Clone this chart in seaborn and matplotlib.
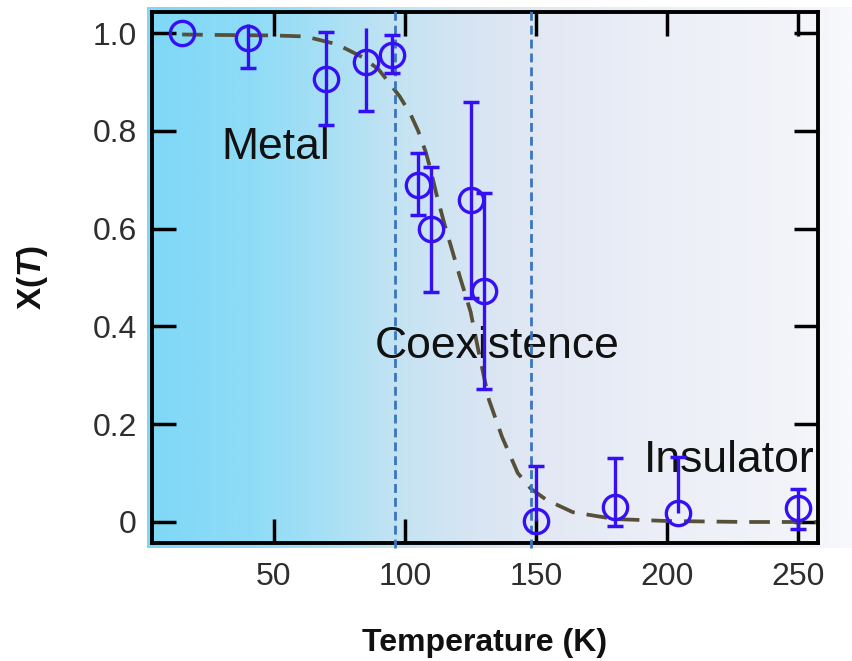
import numpy as np
import matplotlib
matplotlib.use("Agg")
import matplotlib.pyplot as plt
import seaborn as sns
from matplotlib.colors import LinearSegmentedColormap

# Measured metallic fraction X(T) with asymmetric uncertainties
temperature = [15, 40, 70, 85, 95, 105, 110, 125, 130, 150, 180, 204, 250]
fraction = [1.0, 0.99, 0.906, 0.94, 0.955, 0.69, 0.60, 0.658, 0.472, 0.002, 0.031, 0.018, 0.029]
err_low = [0.0, 0.062, 0.095, 0.10, 0.037, 0.062, 0.13, 0.20, 0.20, 0.0, 0.04, 0.0, 0.043]
err_high = [0.0, 0.028, 0.097, 0.07, 0.041, 0.065, 0.127, 0.20, 0.20, 0.113, 0.10, 0.115, 0.038]
top_cap = [False, False, True, False, True, True, True, True, True, True, True, True, True]

# Guide-to-the-eye curve through the transition
fit_temperature = [15, 30, 50, 62, 74, 84, 90, 94, 98, 102, 105, 108, 110, 112, 115, 118,
                   121, 125, 128, 132, 137, 143, 148, 154, 164, 180, 200, 230, 260]
fit_fraction = [0.997, 0.996, 0.995, 0.993, 0.977, 0.95, 0.925, 0.898, 0.87, 0.835, 0.80,
                0.755, 0.715, 0.67, 0.61, 0.555, 0.50, 0.43, 0.35, 0.25, 0.174, 0.10,
                0.068, 0.045, 0.02, 0.006, 0.002, 0.0, 0.0]

# Phase boundaries and region names
boundaries = [96, 148]
region_names = ["Metal", "Coexistence", "Insulator"]
region_x = [30, 88.5, 191]
region_y = [0.742, 0.335, 0.102]

x_ticks = [50, 100, 150, 200, 250]
y_ticks = [0, 0.2, 0.4, 0.6, 0.8, 1.0]
y_tick_labels = ["0", "0.2", "0.4", "0.6", "0.8", "1.0"]

sns.set_theme(style="ticks")
plt.rcParams["font.family"] = ["Liberation Sans", "DejaVu Sans"]
plt.rcParams["mathtext.fontset"] = "custom"
plt.rcParams["mathtext.rm"] = "Liberation Sans"
plt.rcParams["mathtext.bf"] = "Liberation Sans:bold"
plt.rcParams["mathtext.bfit"] = "Liberation Sans:bold:italic"

W, H = 853, 661
fig = plt.figure(figsize=(W / 100, H / 100), dpi=100, facecolor="white")

# Colour gradient behind the plot: metal (blue) fading to insulator (white)
bg = fig.add_axes([147 / W, (H - 548) / H, (W - 147) / W, (548 - 7) / H])
grad = LinearSegmentedColormap.from_list(
    "phase",
    [(0.0, "#7ed8f7"), (0.15, "#8fdcf7"), (0.26, "#a9e0f5"), (0.35, "#c3e3f3"),
     (0.46, "#d7e5f2"), (0.56, "#e2e8f4"), (0.71, "#ebeef7"), (0.92, "#f2f4f9"),
     (1.0, "#f8f9fc")])
bg.imshow(np.linspace(0, 1, 512)[None, :], aspect="auto", cmap=grad,
          extent=[0, 1, 0, 1])
bg.set_axis_off()
bg.set_zorder(0)

ax = fig.add_axes([152 / W, (H - 543) / H, 666 / W, 531 / H])
ax.set_zorder(1)
ax.set_facecolor("none")

blue = "#3510f5"

# dashed guide curve
sns.lineplot(x=fit_temperature, y=fit_fraction, ax=ax, color="#565038", lw=2.7,
             linestyle=(0, (5.5, 3.2)), zorder=2)

# phase boundaries
for b in boundaries:
    ax.axvline(b, ymin=-0.01, ymax=1.01, color="#3a76bd", lw=2.0,
               linestyle=(0, (3.2, 1.8)), clip_on=False, zorder=3)

# region labels
for name, x, y in zip(region_names, region_x, region_y):
    ax.text(x, y, name, fontsize=32, color="#111111", ha="left", va="baseline",
            zorder=2)

# error bars
T = np.array(temperature)
X = np.array(fraction)
lo = np.array(err_low)
hi = np.array(err_high)
ax.vlines(T, X - lo, X + hi, color=blue, lw=2.4, zorder=4)
cap_top = (hi > 0) & np.array(top_cap)
cap_bot = lo > 0
ax.plot(T[cap_top], (X + hi)[cap_top], ls="none", marker="_", ms=12, mew=2.5,
        color=blue, zorder=4)
ax.plot(T[cap_bot], (X - lo)[cap_bot], ls="none", marker="_", ms=12, mew=2.5,
        color=blue, zorder=4)

# open circle markers
ax.plot(T, X, ls="none", marker="o", ms=17.5, mfc="none", mec=blue, mew=2.4,
        zorder=5)

ax.set_xlim(3.5, 257.5)
ax.set_ylim(-0.043, 1.043)
ax.set_xticks(x_ticks)
ax.set_yticks(y_ticks)
ax.set_yticklabels(y_tick_labels)

for s in ax.spines.values():
    s.set_linewidth(2.8)
    s.set_color("black")
    s.set_visible(True)
ax.tick_params(direction="in", length=17, width=2.5, top=True, right=True,
               labelsize=23, labelcolor="#2e2e2e", pad=11, color="black")
ax.tick_params(axis="x", pad=14)

ax.set_xlabel("Temperature (K)", fontsize=23, fontweight="bold", color="#111111")
ax.xaxis.set_label_coords(0.5, -0.16)
ax.set_ylabel(r"$\mathbf{X(}\mathbfit{T}\mathbf{)}$", fontsize=24, color="#111111")
ax.yaxis.set_label_coords(-0.153, 0.5)

fig.savefig("out.png", dpi=100)
